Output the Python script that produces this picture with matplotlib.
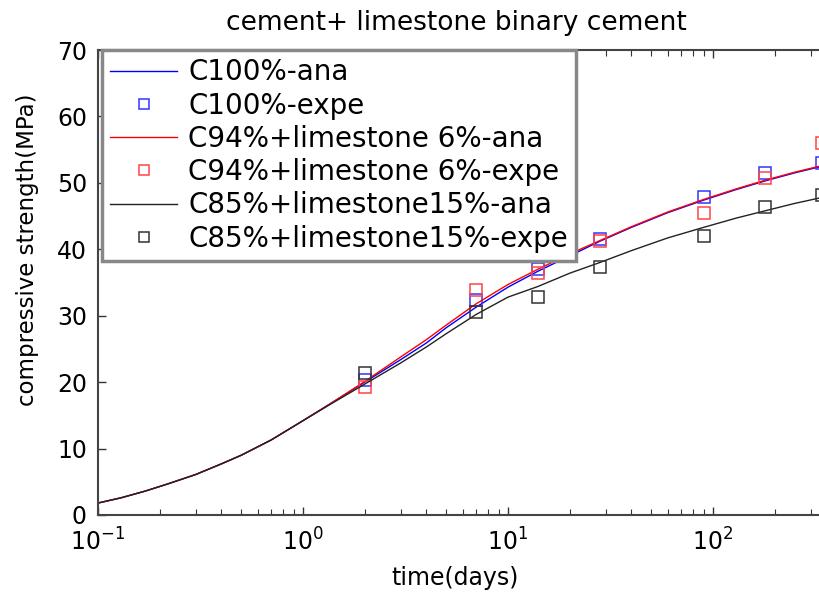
import matplotlib
matplotlib.use("Agg")
import matplotlib.pyplot as plt
from matplotlib.ticker import LogLocator, NullFormatter

# analytic curves
t_ana = [0.1, 0.13, 0.17, 0.22, 0.3, 0.4, 0.5, 0.7, 1, 1.4, 2, 3, 4, 5, 7, 10,
         14, 20, 28, 40, 60, 90, 130, 180, 250, 340, 500, 1000]
c100_ana = [1.8, 2.6, 3.6, 4.7, 6.1, 7.7, 9.0, 11.3, 14.2, 17.0, 20.0, 23.4, 25.9,
            28.2, 31.3, 34.3, 36.7, 39.0, 41.2, 43.3, 45.5, 47.4, 49.0, 50.3,
            51.5, 52.5, 53.5, 55.0]
c94_ana = [1.8, 2.6, 3.6, 4.7, 6.1, 7.7, 9.0, 11.3, 14.2, 17.0, 20.1, 23.8, 26.4,
           28.6, 31.8, 34.7, 37.0, 39.3, 41.3, 43.4, 45.6, 47.5, 49.1, 50.4,
           51.6, 52.6, 53.6, 55.1]
c85_ana = [1.8, 2.6, 3.6, 4.7, 6.1, 7.7, 9.0, 11.3, 14.2, 16.9, 19.7, 22.9, 25.3,
           27.3, 30.2, 32.8, 34.4, 36.4, 38.0, 39.8, 41.7, 43.3, 44.7, 45.8,
           46.9, 47.8, 48.6, 50.0]

# experimental points
t_exp = [2, 7, 14, 28, 90, 180, 340]
c100_exp = [20.3, 32.4, 37.0, 41.5, 47.9, 51.5, 53.0]
c94_exp = [19.3, 33.9, 36.5, 41.2, 45.5, 50.8, 56.0]
c85_exp = [21.4, 30.6, 32.8, 37.3, 42.0, 46.4, 48.2]

labels = ['C100%-ana', 'C100%-expe',
          'C94%+limestone 6%-ana', 'C94%+limestone 6%-expe',
          'C85%+limestone15%-ana', 'C85%+limestone15%-expe']
xticks = [0.1, 1, 10, 100]
yticks = [0, 10, 20, 30, 40, 50, 60, 70]

plt.rcParams['font.family'] = 'DejaVu Sans'

fig = plt.figure(figsize=(8.19, 5.92), dpi=100)
# axes runs past the right edge of the picture, like the cropped original
ax = fig.add_axes([98 / 819, 77 / 592, 820 / 819, 465 / 592])

ms = 9
ax.plot(t_ana, c100_ana, color='#0000ff', lw=1.0, label=labels[0])
ax.plot(t_exp, c100_exp, 's', mfc='none', mec='#3333ff', mew=1.1, ms=ms, label=labels[1])
ax.plot(t_ana, c94_ana, color='#ff0000', lw=1.0, label=labels[2])
ax.plot(t_exp, c94_exp, 's', mfc='none', mec='#ff4444', mew=1.1, ms=ms, label=labels[3])
ax.plot(t_ana, c85_ana, color='#222222', lw=1.0, label=labels[4])
ax.plot(t_exp, c85_exp, 's', mfc='none', mec='#333333', mew=1.1, ms=ms, label=labels[5])

ax.set_xscale('log')
ax.set_xlim(0.1, 1000)
ax.set_ylim(0, 70)
ax.set_yticks(yticks)
ax.set_xticks(xticks)
ax.xaxis.set_minor_locator(LogLocator(base=10, subs=range(2, 10), numticks=10))
ax.xaxis.set_minor_formatter(NullFormatter())

ax.tick_params(which='both', direction='in', top=True, right=True,
               labelsize=17, color='#333333')
ax.tick_params(which='major', length=6, width=1.0)
ax.tick_params(axis='x', which='major', pad=10)
ax.tick_params(axis='y', which='major', pad=8)
ax.tick_params(which='minor', length=4, width=0.8)
for s in ax.spines.values():
    s.set_color('#444444')
    s.set_linewidth(1.5)

ax.set_xlabel('time(days)', fontsize=17)
ax.xaxis.set_label_coords(0.435, -0.11)
ax.set_ylabel('compressive strength(MPa)', fontsize=16.5)
ax.yaxis.set_label_coords(-0.072, 0.57)

fig.text(456 / 819, 1 - 23 / 592, 'cement+ limestone binary cement',
         fontsize=19, ha='center', va='center')

leg = ax.legend(loc='upper left', bbox_to_anchor=(0.005, 1.0), borderaxespad=0,
                fontsize=20, handlelength=2.4, handletextpad=0.4,
                borderpad=0.3, labelspacing=0.19, markerscale=0.75,
                fancybox=False, framealpha=1)
leg.get_frame().set_edgecolor('#888888')
leg.get_frame().set_linewidth(2.5)

fig.savefig('out.png', dpi=100)
